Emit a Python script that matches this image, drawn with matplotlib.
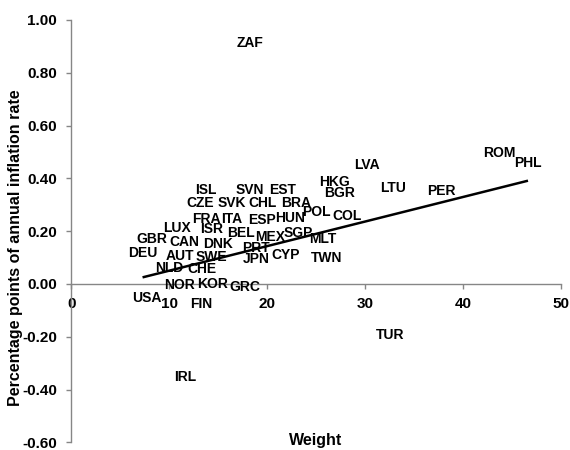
import numpy as np
import matplotlib
matplotlib.use("Agg")
import matplotlib.pyplot as plt

countries = ["ZAF", "ISL", "SVN", "EST", "HKG", "CZE", "SVK", "CHL", "BRA", "BGR",
             "FRA", "ITA", "ESP", "HUN", "POL", "COL", "LUX", "ISR", "BEL", "MEX",
             "SGP", "MLT", "GBR", "CAN", "DNK", "PRT", "DEU", "AUT", "SWE", "JPN",
             "CYP", "TWN", "NLD", "CHE", "NOR", "KOR", "GRC", "USA", "FIN", "IRL",
             "TUR", "LVA", "LTU", "PER", "ROM", "PHL"]
weight = [18.20, 13.70, 18.20, 21.57, 26.89, 13.14, 16.36, 19.53, 22.90, 27.40,
          13.80, 16.36, 19.43, 22.29, 25.05, 28.17, 10.74, 14.31, 17.28, 20.25,
          23.16, 25.66, 8.18, 11.55, 14.93, 18.87, 7.26, 11.09, 14.31, 18.92,
          21.83, 26.07, 10.02, 13.29, 10.99, 14.42, 17.74, 7.72, 13.29, 11.66,
          32.57, 30.21, 32.87, 37.78, 43.66, 46.63]
inflation = [0.850, 0.293, 0.293, 0.293, 0.325, 0.244, 0.244, 0.244, 0.244, 0.282,
             0.183, 0.183, 0.179, 0.187, 0.211, 0.195, 0.149, 0.145, 0.131, 0.115,
             0.130, 0.107, 0.107, 0.097, 0.089, 0.073, 0.054, 0.043, 0.039, 0.032,
             0.047, 0.037, -0.001, -0.006, -0.067, -0.063, -0.073, -0.115, -0.139, -0.414,
             -0.256, 0.388, 0.300, 0.289, 0.432, 0.394]
x_ticks = [0, 10, 20, 30, 40, 50]
y_ticks = [-0.60, -0.40, -0.20, 0.00, 0.20, 0.40, 0.60, 0.80, 1.00]

plt.rcParams['font.family'] = ['Liberation Sans', 'DejaVu Sans']
plt.rcParams['font.weight'] = 'bold'

fig = plt.figure(figsize=(5.7, 4.5), dpi=100)
ax = fig.add_axes([0.1254, 0.0169, 0.9842 - 0.1254, 0.9556 - 0.0169])

x = np.array(weight)
y = np.array(inflation)
# data labels placed above each (invisible) point
for name, xi, yi in zip(countries, x, y):
    ax.annotate(name, (xi, yi), xytext=(0, 12), textcoords='offset points',
                ha='center', va='center', fontsize=10, fontweight='bold',
                color='#000000')

# linear trendline
k, b = np.polyfit(x, y, 1)
xs = np.array([x.min(), x.max()])
ax.plot(xs, k * xs + b, color='black', lw=1.8, solid_capstyle='butt')

ax.set_xlim(0, 50)
ax.set_ylim(-0.60, 1.00)
ax.set_xticks(x_ticks)
ax.set_yticks(y_ticks)
ax.set_yticklabels([f"{v:.2f}" for v in y_ticks])
ax.set_xticklabels([str(v) for v in x_ticks])

gray = '#868686'
ax.spines['top'].set_visible(False)
ax.spines['right'].set_visible(False)
ax.spines['left'].set_color(gray)
ax.spines['bottom'].set_color(gray)
ax.spines['bottom'].set_position(('data', 0))
ax.spines['left'].set_linewidth(1.0)
ax.spines['bottom'].set_linewidth(1.0)
ax.tick_params(axis='both', colors=gray, labelcolor='black', labelsize=11,
               length=3.5, width=1.0, direction='out')
ax.tick_params(axis='y', pad=7)
ax.tick_params(axis='x', pad=6)
for lab in ax.get_xticklabels() + ax.get_yticklabels():
    lab.set_fontweight('bold')

fig.text(16 / 570, 1 - 248 / 450, "Percentage points of annual inflation rate",
         rotation=90, ha='center', va='center', fontsize=11.5, fontweight='bold')
fig.text(315.5 / 570, 1.5 / 450, "Weight", ha='center', va='bottom',
         fontsize=11.5, fontweight='bold')

fig.savefig("out.png", dpi=100)
